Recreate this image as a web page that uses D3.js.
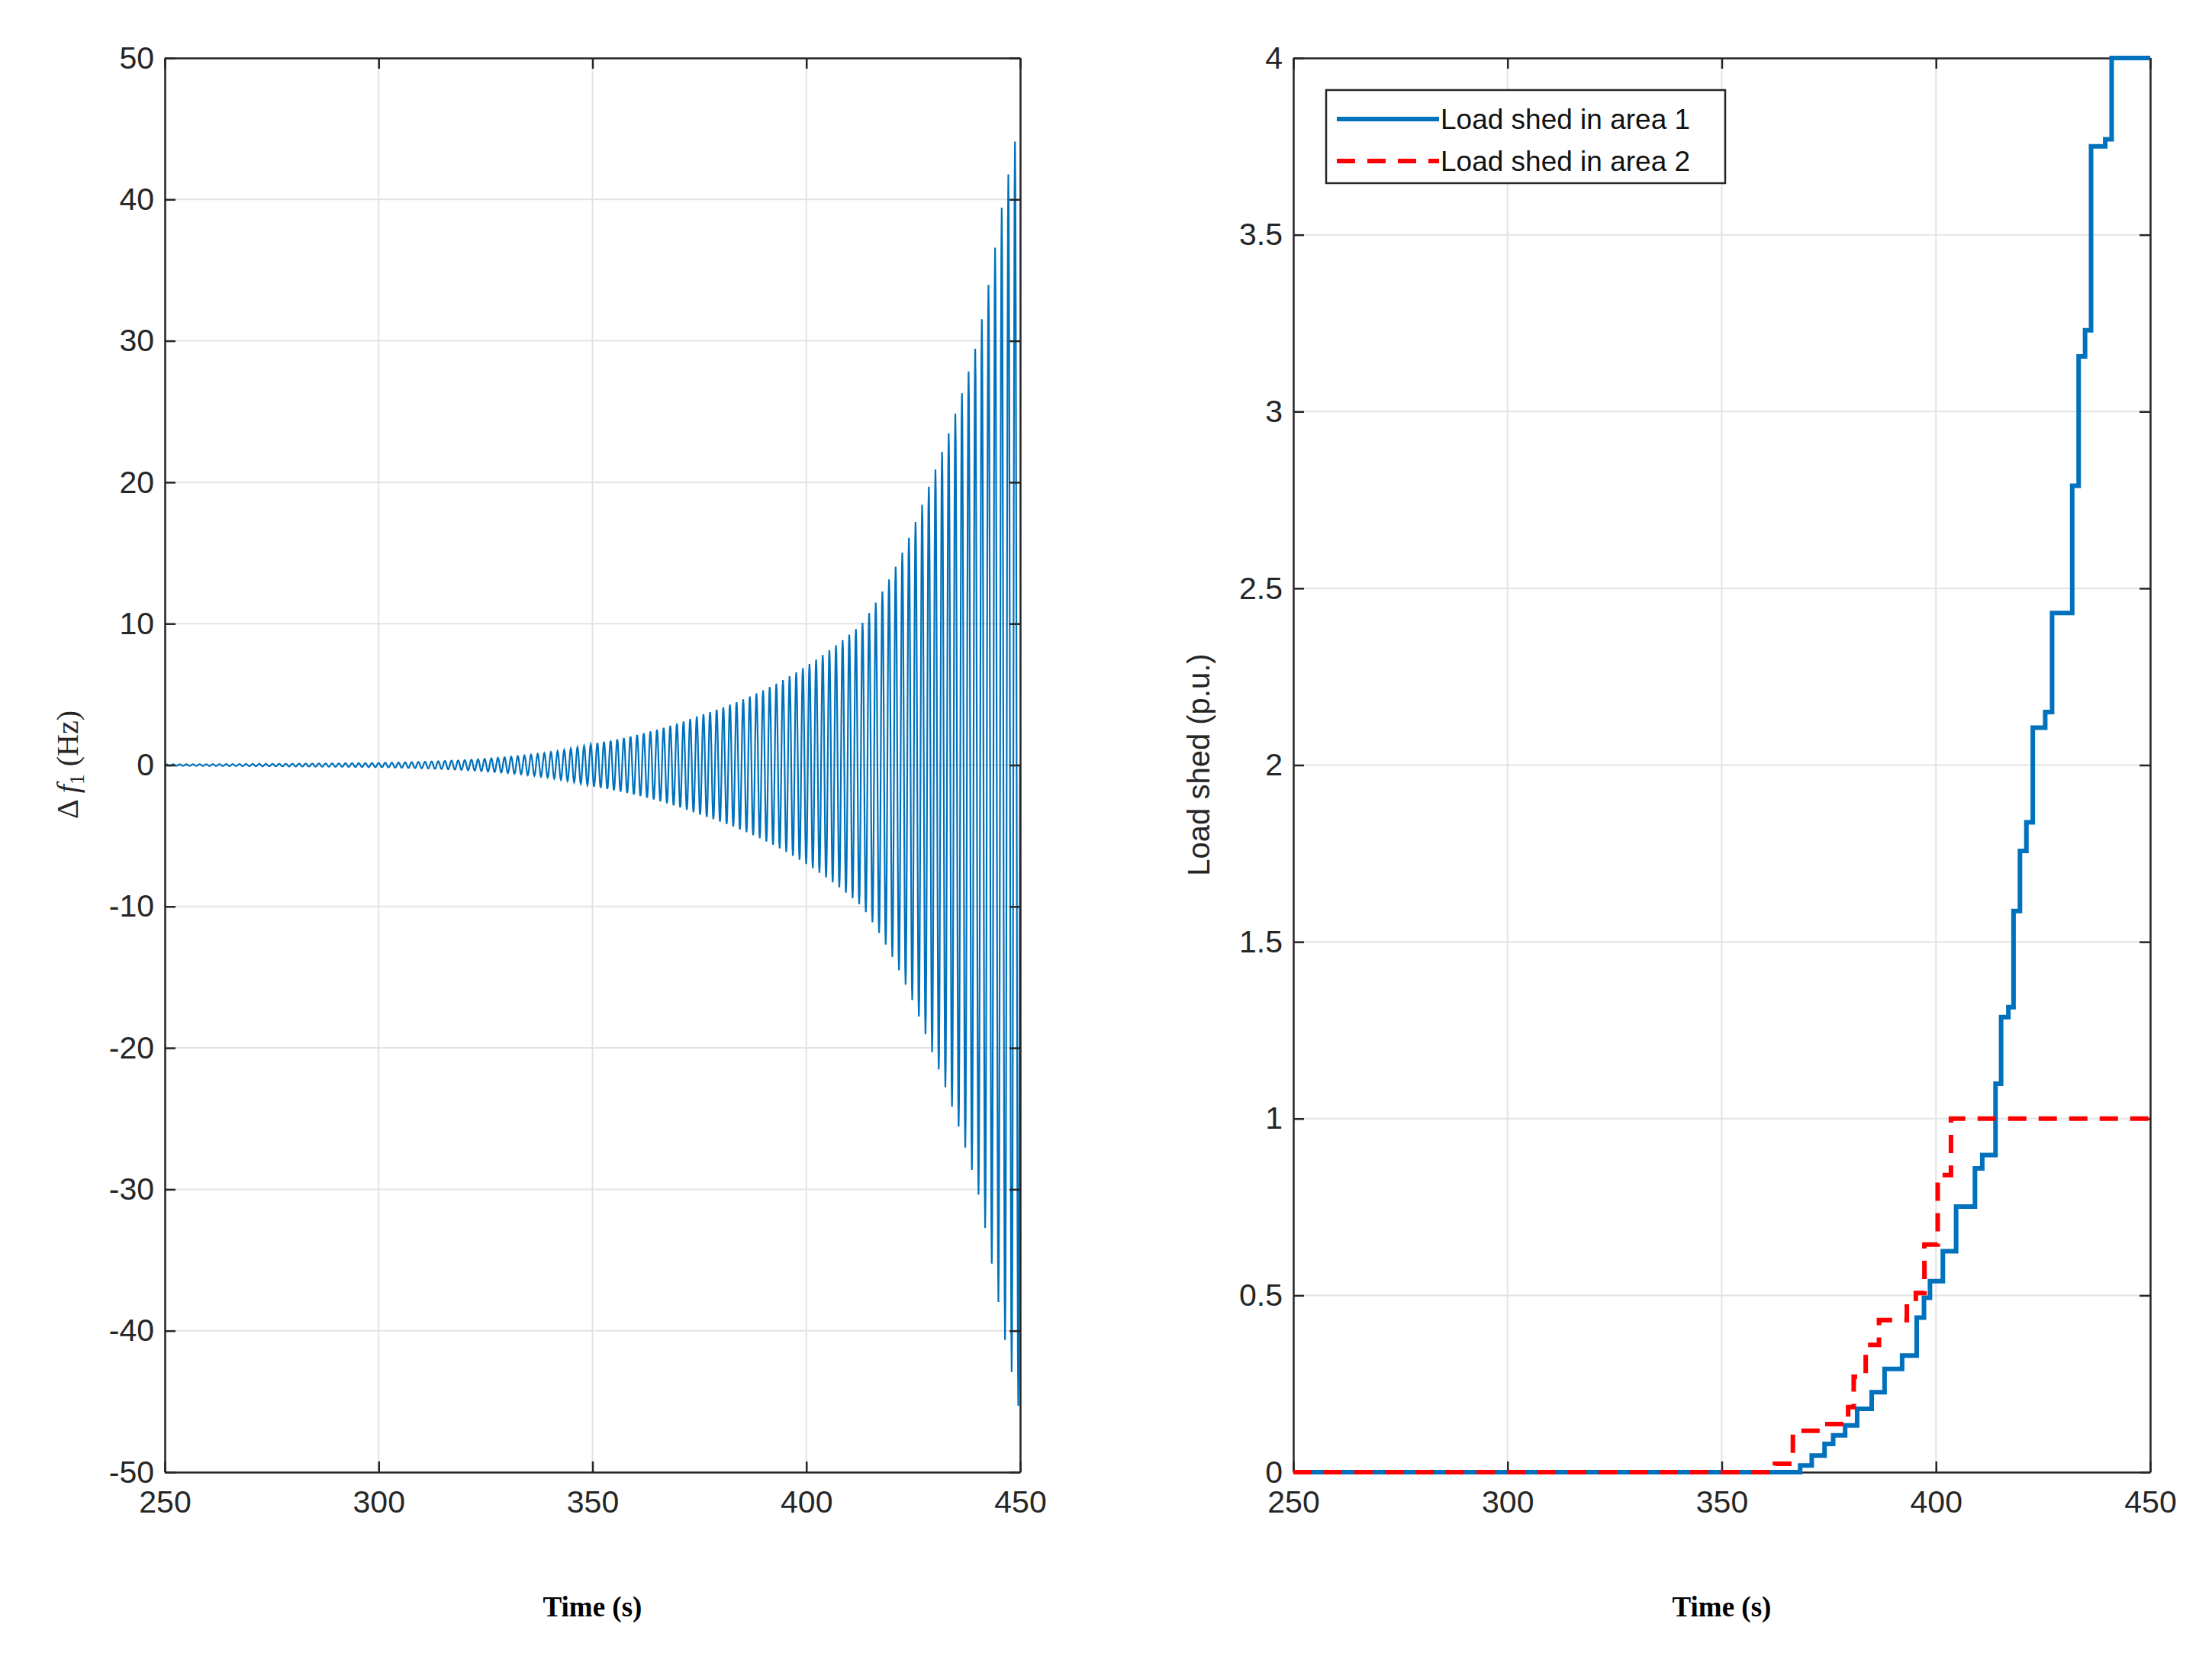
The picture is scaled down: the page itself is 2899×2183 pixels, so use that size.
<!DOCTYPE html>
<html>
<head>
<meta charset="utf-8">
<script src="https://cdn.jsdelivr.net/npm/d3@7"></script>
<style>
  body { margin: 0; background: #fff; }
  text { font-family: "Liberation Sans", Arial, sans-serif; }
</style>
</head>
<body>
<div id="chart"></div>
<script>
const width = 2899;
const height = 2183;

// left plot: envelope of the growing oscillation
const envTime = [250, 300, 320, 340, 350, 375, 400, 413, 420, 429, 435, 440, 446, 450];
const envAmp = [0.05, 0.15, 0.35, 0.9, 1.5, 3.5, 7, 10, 13.5, 20, 25, 30, 40, 46];
const period = 1.55;

// right plot: step series
const area1Time = [250, 363.8, 368.3, 371.0, 374.0, 376.0, 378.8, 381.6, 385.0, 388.0, 392.1, 395.5, 397.2, 398.6,
  401.6, 404.7, 409.1, 410.8, 413.9, 415.2, 416.9, 418.1, 419.6, 421.1, 422.6, 425.5, 427.1, 431.8, 433.3,
  434.8, 436.2, 439.5, 441.0, 450];
const area1Load = [0, 0, 0.019, 0.047, 0.08, 0.104, 0.132, 0.179, 0.226, 0.292, 0.33, 0.437, 0.493, 0.54,
  0.625, 0.751, 0.859, 0.897, 1.099, 1.287, 1.315, 1.587, 1.757, 1.838, 2.106, 2.15, 2.43, 2.79, 3.156,
  3.23, 3.75, 3.77, 4.0, 4.0];
const area2Time = [250, 362.4, 366.6, 373.3, 379.5, 380.8, 383.6, 386.7, 393.2, 395.3, 397.3, 400.4, 403.5, 450];
const area2Load = [0, 0.024, 0.117, 0.136, 0.184, 0.27, 0.36, 0.43, 0.48, 0.507, 0.644, 0.84, 1.0, 1.0];

const leftTicks = [-50, -40, -30, -20, -10, 0, 10, 20, 30, 40, 50];
const rightTicks = [0, 0.5, 1, 1.5, 2, 2.5, 3, 3.5, 4];
const timeTicks = [250, 300, 350, 400, 450];

const svg = d3.select("#chart").append("svg")
  .attr("width", width).attr("height", height);

const plotTop = 76, plotBottom = 1929;

function panel(x0, x1, yDomain, yTicks, fmt) {
  const x = d3.scaleLinear().domain([250, 450]).range([x0, x1]);
  const y = d3.scaleLinear().domain(yDomain).range([plotBottom, plotTop]);
  const g = svg.append("g");
  // grid
  g.selectAll(".gx").data(timeTicks).enter().append("line")
    .attr("x1", d => x(d)).attr("x2", d => x(d)).attr("y1", plotTop).attr("y2", plotBottom)
    .attr("stroke", "#e3e3e3").attr("stroke-width", 2);
  g.selectAll(".gy").data(yTicks).enter().append("line")
    .attr("y1", d => y(d)).attr("y2", d => y(d)).attr("x1", x0).attr("x2", x1)
    .attr("stroke", "#e3e3e3").attr("stroke-width", 2);
  // axes (ticks inside)
  const ax = (a) => a.tickSizeInner(-14).tickSizeOuter(0).tickPadding(24);
  const xb = g.append("g").attr("transform", `translate(0,${plotBottom})`)
    .call(ax(d3.axisBottom(x).tickValues(timeTicks)));
  const xt = g.append("g").attr("transform", `translate(0,${plotTop})`)
    .call(ax(d3.axisTop(x).tickValues(timeTicks)).tickFormat(""));
  const yl = g.append("g").attr("transform", `translate(${x0},0)`)
    .call(ax(d3.axisLeft(y).tickValues(yTicks)).tickPadding(14).tickFormat(fmt));
  const yr = g.append("g").attr("transform", `translate(${x1},0)`)
    .call(ax(d3.axisRight(y).tickValues(yTicks)).tickFormat(""));
  [xb, xt, yl, yr].forEach(a => {
    a.selectAll("path, line").attr("stroke", "#262626").attr("stroke-width", 2.5);
    a.selectAll("text").attr("font-size", 41).attr("fill", "#262626")
      .attr("font-family", "Liberation Sans, Arial, sans-serif");
  });
  g.append("text").attr("x", (x0 + x1) / 2).attr("y", 2118)
    .attr("text-anchor", "middle").attr("font-size", 37).attr("font-weight", "bold")
    .style("font-family", "Liberation Serif, Times New Roman, serif").text("Time (s)");
  return { x, y, g };
}

// left panel
const L = panel(216, 1337, [-50, 50], leftTicks, d => d);
const env = d3.scaleLinear().domain(envTime).range(envAmp.map(Math.log));
const osc = [];
for (let t = 250; t <= 450; t += period / 16) {
  osc.push([t, Math.exp(env(t)) * Math.sin(2 * Math.PI * (t - 250) / period)]);
}
L.g.insert("path", "g").datum(osc)
  .attr("fill", "none").attr("stroke", "#0072BD").attr("stroke-width", 2.2)
  .attr("d", d3.line().x(d => L.x(d[0])).y(d => L.y(d[1])));
const ylab = L.g.append("text")
  .attr("transform", "translate(102,1002) rotate(-90)")
  .attr("text-anchor", "middle").attr("font-size", 40).attr("fill", "#262626")
  .style("font-family", "Liberation Serif, Times New Roman, serif");
ylab.append("tspan").text("\u0394");
ylab.append("tspan").attr("font-style", "italic").attr("dx", 8).text("f");
ylab.append("tspan").attr("font-size", 28).attr("dy", 8).text("1");
ylab.append("tspan").attr("dy", -8).attr("dx", 10).text("(Hz)");

// right panel
const R = panel(1695, 2818, [0, 4], rightTicks, d => d);
const step = d3.line().curve(d3.curveStepAfter).x(d => R.x(d[0])).y(d => R.y(d[1]));
R.g.append("path").datum(area1Time.map((t, i) => [t, area1Load[i]]))
  .attr("fill", "none").attr("stroke", "#0072BD").attr("stroke-width", 6).attr("d", step);
R.g.append("path").datum(area2Time.map((t, i) => [t, area2Load[i]]))
  .attr("fill", "none").attr("stroke", "#ff0000").attr("stroke-width", 6)
  .attr("stroke-dasharray", "24,16").attr("d", step);
R.g.append("text")
  .attr("transform", "translate(1585,1002) rotate(-90)")
  .attr("text-anchor", "middle").attr("font-size", 40).attr("fill", "#262626")
  .text("Load shed (p.u.)");

// legend
const lg = R.g.append("g").attr("transform", "translate(1738,118)");
lg.append("rect").attr("width", 523).attr("height", 122)
  .attr("fill", "#fff").attr("stroke", "#262626").attr("stroke-width", 2.5);
const items = [
  { label: "Load shed in area 1", color: "#0072BD", dash: null },
  { label: "Load shed in area 2", color: "#ff0000", dash: "24,16" }
];
items.forEach((it, i) => {
  const yy = 38 + i * 55;
  lg.append("line").attr("x1", 14).attr("x2", 148).attr("y1", yy).attr("y2", yy)
    .attr("stroke", it.color).attr("stroke-width", 6).attr("stroke-dasharray", it.dash);
  lg.append("text").attr("x", 150).attr("y", yy + 13).attr("font-size", 37)
    .attr("fill", "#111").text(it.label);
});
</script>
</body>
</html>
